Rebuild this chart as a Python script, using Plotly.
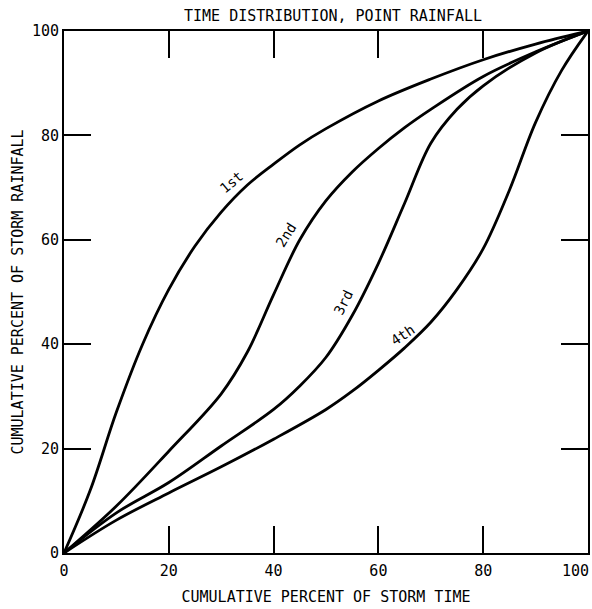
import plotly.graph_objects as go

# Cumulative percent of storm time (x) and storm rainfall (y) for each quartile curve
q1_x = [0, 5, 10, 15, 20, 25, 30, 35, 40, 45, 50, 60, 70, 80, 90, 100]
q1_y = [0, 12, 27, 40, 50.5, 58.8, 65.3, 70.5, 74.5, 78.2, 81.3, 86.6, 90.8, 94.5, 97.5, 100]

q2_x = [0, 10, 20, 30, 35, 40, 45, 50, 55, 60, 65, 70, 80, 90, 100]
q2_y = [0, 9, 19.5, 30.5, 38.5, 49.5, 60, 67.5, 73, 77.5, 81.5, 85, 91.3, 96, 100]

q3_x = [0, 10, 20, 30, 40, 45, 50, 55, 60, 65, 70, 75, 80, 90, 100]
q3_y = [0, 7.7, 13.5, 20.5, 27.5, 32, 37.5, 45.5, 55.5, 67, 78.5, 85, 89.5, 95.8, 100]

q4_x = [0, 10, 20, 30, 40, 50, 55, 60, 65, 70, 75, 80, 85, 90, 95, 100]
q4_y = [0, 6.3, 11.5, 16.5, 21.8, 27.5, 31, 35, 39.3, 44.2, 50.5, 58.3, 69.5, 82.5, 92.5, 100]

curve_labels = ["1st", "2nd", "3rd", "4th"]
label_x = [32.0, 42.3, 53.4, 64.6]
label_y = [71.0, 61.0, 48.0, 41.8]
label_angle = [-40, -58, -64, -34]

tick_vals = [0, 20, 40, 60, 80, 100]
x_tick_text = ["0", "20", "40", "60", "80", "100"]
y_tick_text = ["0", "20", "40", "60", "80", "100"]

FONT = "DejaVu Sans Mono"
TICKFONT = dict(family=FONT, size=15, color="black")

fig = go.Figure()
for xs, ys in [(q1_x, q1_y), (q2_x, q2_y), (q3_x, q3_y), (q4_x, q4_y)]:
    fig.add_trace(go.Scatter(x=xs, y=ys, mode="lines",
                             line=dict(color="black", width=2.8, shape="spline", smoothing=1.0),
                             showlegend=False, hoverinfo="skip"))

for t, x, y, a in zip(curve_labels, label_x, label_y, label_angle):
    fig.add_annotation(x=x, y=y, text=t, textangle=a, showarrow=False,
                       font=dict(family=FONT, size=14, color="black"))

axis_common = dict(range=[0, 100], tickvals=tick_vals, ticks="inside", ticklen=27,
                   tickwidth=1.5, tickcolor="black", showline=True, linecolor="black",
                   linewidth=2, mirror="allticks", showgrid=False, zeroline=False,
                   automargin=False, ticklabeloverflow="allow", tickfont=TICKFONT)

# the last x tick label sits flush with the right edge (right-aligned at x=100)
fig.update_xaxes(**axis_common, ticktext=x_tick_text[:-1] + [""], ticklabelstandoff=3,
                 title=dict(text="CUMULATIVE PERCENT OF STORM TIME",
                            font=dict(family=FONT, size=15, color="black"), standoff=12))
fig.add_annotation(x=tick_vals[-1], y=0, xref="x", yref="y", text=x_tick_text[-1],
                   showarrow=False, xanchor="right", yanchor="middle",
                   xshift=3, yshift=-18, font=TICKFONT)

fig.update_yaxes(**axis_common, ticktext=y_tick_text,
                 title=dict(text="CUMULATIVE PERCENT OF STORM RAINFALL",
                            font=dict(family=FONT, size=15, color="black"), standoff=5))

fig.update_layout(
    width=592, height=609, autosize=False,
    margin=dict(l=64, r=4, t=31, b=56),
    plot_bgcolor="white", paper_bgcolor="white",
    title=dict(text="TIME DISTRIBUTION, POINT RAINFALL", x=0.5625, xanchor="center",
               y=1 - 16 / 609, yanchor="middle", yref="container",
               font=dict(family=FONT, size=15, color="black"), automargin=False),
)

# remove the page's default body margin so the figure fills the window exactly
fig.write_html(
    "out.html",
    config={"displayModeBar": False},
    post_script="document.body.style.margin='0px';"
                "document.documentElement.style.overflow='hidden';",
)
